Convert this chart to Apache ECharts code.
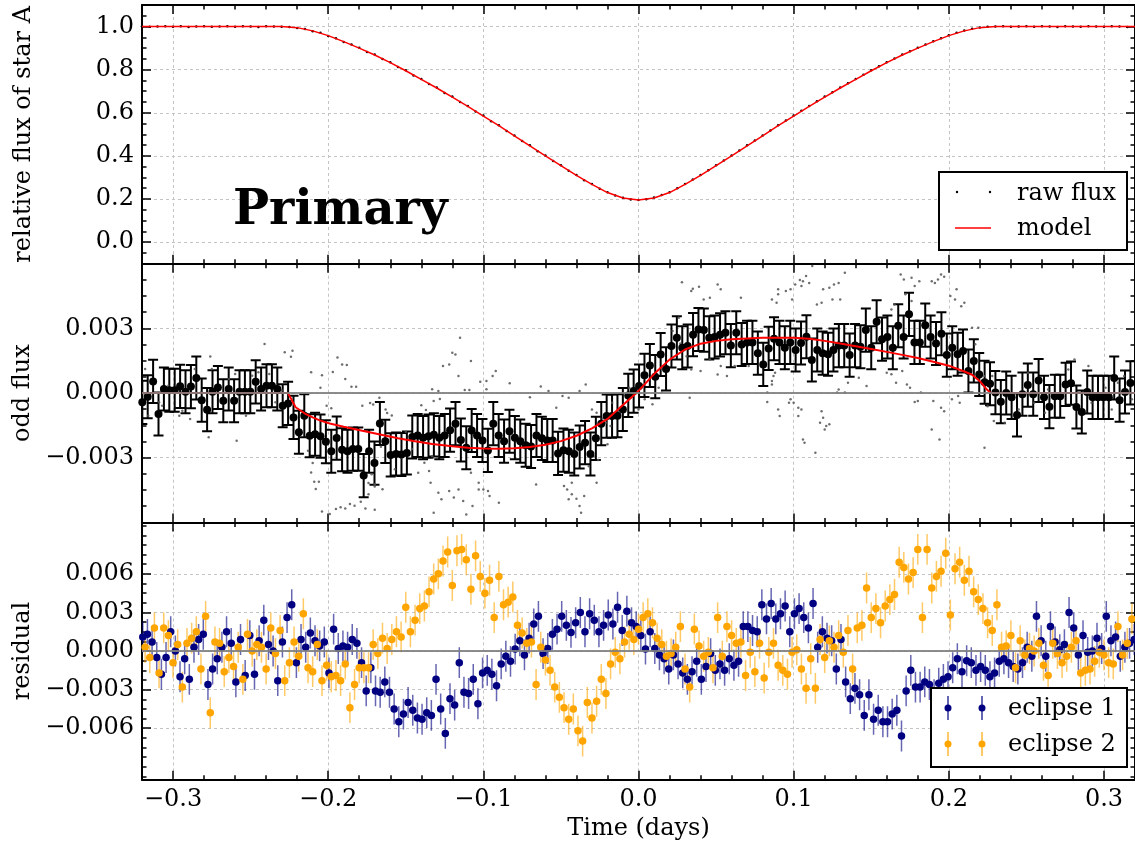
<!DOCTYPE html>
<html>
<head>
<meta charset="utf-8">
<title>Primary eclipse</title>
<script src="https://cdn.jsdelivr.net/npm/echarts@6/dist/echarts.min.js"></script>
<style>
  html, body { margin: 0; padding: 0; background: #fff; }
  #main { width: 1135px; height: 845px; }
</style>
</head>
<body>
<div id="main"></div>
<script>
// ---- time axis ----
var xMin = -0.32, xMax = 0.32;
var xMajor = [-0.3, -0.2, -0.1, 0.0, 0.1, 0.2, 0.3];

// ---- top panel: relative flux of star A ----
var modelStart = -0.32, modelStep = 0.01;
var modelFlux = [
  1.000, 1.000, 1.000, 1.000, 1.000, 1.000, 1.000, 1.000, 1.000, 1.000,
  0.995, 0.980, 0.958, 0.930, 0.900, 0.868, 0.833, 0.795, 0.755, 0.715,
  0.673, 0.630, 0.585, 0.540, 0.493, 0.447, 0.400, 0.355, 0.310, 0.268,
  0.230, 0.205, 0.195, 0.205, 0.230, 0.268, 0.310, 0.355, 0.400, 0.447,
  0.493, 0.540, 0.585, 0.630, 0.673, 0.715, 0.755, 0.795, 0.833, 0.868,
  0.900, 0.930, 0.958, 0.980, 0.995, 1.000, 1.000, 1.000, 1.000, 1.000,
  1.000, 1.000, 1.000, 1.000, 1.000
];
var rawStart = -0.32, rawStep = 0.005;
var rawFlux = [
  1.001, 0.999, 1.000, 1.002, 0.999, 1.001, 0.998, 1.000, 1.002, 0.999,
  1.000, 1.001, 0.999, 1.002, 1.000, 0.998, 1.001, 1.000, 0.999, 0.998,
  0.993, 0.989, 0.978, 0.971, 0.956, 0.946, 0.928, 0.917, 0.902, 0.882,
  0.870, 0.849, 0.835, 0.812, 0.797, 0.773, 0.757, 0.733, 0.717, 0.692,
  0.675, 0.650, 0.632, 0.606, 0.587, 0.561, 0.542, 0.515, 0.495, 0.469,
  0.449, 0.422, 0.402, 0.376, 0.357, 0.331, 0.312, 0.287, 0.270, 0.248,
  0.232, 0.216, 0.206, 0.198, 0.196, 0.199, 0.207, 0.219, 0.232, 0.250,
  0.270, 0.290, 0.312, 0.334, 0.357, 0.379, 0.402, 0.425, 0.449, 0.472,
  0.495, 0.518, 0.542, 0.564, 0.587, 0.609, 0.632, 0.653, 0.675, 0.695,
  0.717, 0.737, 0.757, 0.777, 0.797, 0.816, 0.835, 0.852, 0.870, 0.886,
  0.902, 0.917, 0.932, 0.946, 0.960, 0.971, 0.982, 0.990, 0.996, 0.999,
  1.000, 1.001, 0.999, 1.000, 1.002, 0.999, 1.001, 1.000, 0.998, 1.001,
  1.000, 0.999, 1.002, 1.000, 0.999, 1.001, 1.000, 0.998, 1.001
];

// ---- middle panel: odd flux (values in units of 1e-3) ----
var binStart = -0.3198, binStep = 0.00348, binErr = 1.0;
var oddBin = [
  -0.43, -0.17, 0.54, -0.97, 0.19, 0.13, 0.13, 0.31, 0.06, 0.30,
  0.70, -0.33, -0.77, 0.06, 0.26, -0.36, 0.19, -0.36, 0.06, 0.06,
  0.06, 0.52, 0.19, 0.34, 0.34, 0.19, -0.59, -0.48, -1.13, -1.82,
  -1.05, -1.98, -1.91, -2.00, -2.26, -2.70, -2.09, -2.63, -2.70, -2.60,
  -2.60, -3.83, -2.70, -3.25, -1.41, -2.24, -2.87, -2.83, -2.85, -2.78,
  -2.04, -1.97, -2.07, -2.00, -1.94, -2.07, -1.97, -1.72, -1.42, -2.18,
  -2.54, -1.74, -1.97, -2.20, -2.66, -1.42, -1.97, -2.23, -1.77, -2.07,
  -2.23, -2.42, -2.48, -1.97, -2.10, -2.20, -2.20, -2.80, -2.65, -2.70,
  -2.83, -2.50, -2.30, -2.83, -2.10, -1.42, -1.07, -1.07, -1.05, -0.76,
  -0.11, 0.09, 0.33, 0.82, 1.28, 0.76, 1.79, 1.12, 2.18, 2.56,
  2.10, 2.18, 2.71, 2.95, 2.92, 2.56, 2.60, 2.70, 2.80, 2.20,
  2.80, 2.25, 2.35, 2.35, 1.85, 1.33, 2.07, 2.52, 2.35, 2.10,
  2.35, 2.00, 2.32, 2.61, 1.53, 2.00, 1.85, 1.80, 2.00, 2.20,
  2.20, 1.76, 2.20, 2.15, 2.92, 2.10, 3.31, 2.50, 2.60, 2.10,
  3.12, 2.60, 3.65, 2.35, 2.35, 3.15, 2.60, 2.30, 2.75, 1.76,
  2.10, 1.80, 1.95, 1.02, 1.49, 0.86, 0.50, 0.43, 0.02, -0.40,
  0.00, -0.20, -1.02, -0.05, 0.37, -0.05, 0.58, -0.20, -0.63, -0.15,
  -0.15, 0.40, 0.46, -0.65, -0.88, 0.05, -0.20, -0.20, -0.20, -0.20,
  0.70, -0.33, 0.05, 0.47
];
var oddModelT = [-0.32, -0.226, -0.224, -0.221, -0.215, -0.210, -0.205, -0.199, -0.19, -0.178,
  -0.165, -0.155, -0.145, -0.133, -0.12, -0.11, -0.10, -0.09, -0.08, -0.07,
  -0.06, -0.05, -0.04, -0.03, -0.02, -0.01, 0.0, 0.01, 0.02, 0.03,
  0.04, 0.05, 0.06, 0.07, 0.08, 0.09, 0.10, 0.11, 0.12, 0.13,
  0.14, 0.15, 0.16, 0.17, 0.18, 0.19, 0.20, 0.21, 0.215, 0.22,
  0.224, 0.227, 0.32];
var oddModelV = [0, 0, -0.25, -0.66, -0.95, -1.13, -1.28, -1.41, -1.56, -1.75,
  -1.95, -2.10, -2.22, -2.36, -2.47, -2.54, -2.57, -2.58, -2.56, -2.50,
  -2.40, -2.23, -1.98, -1.64, -1.20, -0.55, 0.10, 0.88, 1.55, 2.02,
  2.29, 2.42, 2.49, 2.53, 2.56, 2.57, 2.56, 2.52, 2.42, 2.30,
  2.17, 2.04, 1.91, 1.77, 1.63, 1.45, 1.27, 1.00, 0.85, 0.55,
  0.20, 0, 0];
// unbinned points [time, odd flux x1e-3]
var oddRaw = [
  [-0.309,-0.43],[-0.296,-1.05],[-0.289,-1.20],[-0.278,-0.66],[-0.275,1.11],[-0.268,-0.28],[-0.264,0.65],
  [-0.258,-0.28],[-0.249,0.80],[-0.245,0.96],[-0.238,0.88],[-0.234,-0.43],[-0.307,-0.59],[-0.316,-1.05],
  [-0.318,1.11],[-0.303,0.34],[-0.286,1.11],[-0.294,-0.82],[-0.260,0.88],[-0.253,-1.05],[-0.230,0.12],
  [-0.282,0.03],[-0.241,2.27],[-0.228,1.89],[-0.223,1.96],[-0.224,1.68],[-0.276,1.70],[-0.259,-2.21],
  [-0.277,-2.05],[-0.194,1.65],[-0.188,1.30],[-0.211,0.96],[-0.204,0.83],[-0.205,0.25],[-0.197,0.98],
  [-0.189,0.65],[-0.185,0.29],[-0.182,0.29],[-0.211,-3.68],[-0.209,-4.11],[-0.206,-4.11],[-0.208,-4.45],
  [-0.204,-5.49],[-0.199,-5.61],[-0.195,-5.38],[-0.192,-5.30],[-0.189,-5.35],[-0.186,-5.15],[-0.183,-5.23],
  [-0.179,-5.04],[-0.176,-5.35],[-0.170,-5.41],[-0.174,-4.17],[-0.170,-4.34],[-0.178,-0.59],[-0.173,-0.46],
  [-0.198,-0.70],[-0.201,-0.59],[-0.213,-2.68],[-0.210,-3.25],[-0.166,-2.49],[-0.191,1.33],[-0.167,-0.22],
  [-0.171,-0.53],[-0.163,-0.76],[-0.162,-0.92],[-0.159,-1.04],[-0.174,-4.70],[-0.170,-4.23],[-0.172,-3.77],
  [-0.165,-4.46],[-0.157,-3.54],[-0.150,-1.80],[-0.146,-2.60],[-0.153,-3.00],
  [-0.115,2.57],[-0.120,1.87],[-0.126,1.25],[-0.122,1.33],[-0.118,1.79],[-0.116,0.79],[-0.112,0.14],
  [-0.109,0.14],[-0.108,1.49],[-0.102,0.52],[-0.098,0.56],[-0.098,0.18],[-0.092,1.02],[-0.094,0.79],
  [-0.083,0.45],[-0.133,0.18],[-0.129,0.09],[-0.132,-0.37],[-0.128,-0.28],[-0.140,-0.57],[-0.137,-0.79],
  [-0.129,-4.62],[-0.132,-5.55],[-0.127,-4.93],[-0.122,-4.54],[-0.119,-4.85],[-0.116,-4.47],[-0.113,-5.01],
  [-0.111,-5.63],[-0.107,-5.24],[-0.103,-4.47],[-0.100,-4.47],[-0.097,-4.54],[-0.096,-4.78],[-0.090,-5.09],
  [-0.108,-3.70],[-0.103,-4.16],[-0.138,-3.23],[-0.142,-3.70],[-0.135,-3.62],[-0.134,-4.16],[-0.133,-2.93],
  [-0.063,0.30],[-0.058,0.10],[-0.070,-0.20],
  [-0.049,-0.14],[-0.045,-0.22],[-0.053,-0.68],[-0.034,0.40],[-0.038,0.09],[-0.030,-0.76],[-0.027,-0.91],
  [-0.023,-1.18],[-0.021,-1.38],[-0.020,-2.38],[-0.018,-1.53],[-0.015,-1.07],[-0.013,-0.83],[-0.017,-0.45],
  [-0.048,-4.31],[-0.046,-4.47],[-0.043,-4.16],[-0.043,-4.70],[-0.045,-4.93],[-0.038,-5.24],[-0.035,-4.78],
  [-0.037,-5.55],[-0.040,-4.90],[-0.066,-4.24],[-0.029,-2.93],[-0.026,-3.11],[-0.032,-3.39],[-0.027,-4.16],
  [0.022,2.88],[0.026,3.49],[0.028,5.14],[0.034,4.73],[0.035,4.84],[0.039,4.93],[0.042,4.34],[0.046,4.42],
  [0.051,5.04],[0.053,4.81],[0.066,4.42],[0.090,4.81],[0.095,4.73],[0.098,4.81],[0.099,4.34],[0.101,5.04],
  [0.031,1.71],[0.034,1.09],[0.040,1.02],[0.027,2.30],[0.046,1.56],[0.053,1.25],[0.033,-0.22],[0.083,-0.42],
  [0.090,-0.76],[0.091,-1.07],[0.098,-0.29],[0.086,0.40],[0.087,0.79],[0.071,1.25],[0.062,1.25],[0.057,0.79],
  [0.051,0.86],[0.013,0.25],[0.015,0.02],[0.009,-0.52],[0.004,-0.29],[0.000,-0.76],[-0.004,-0.14],[-0.006,0.25],
  [0.104,5.24],[0.106,5.19],[0.110,5.11],[0.112,5.89],[0.108,5.43],[0.105,4.96],[0.119,4.81],[0.123,4.88],
  [0.126,5.04],[0.129,5.11],[0.133,5.58],[0.130,4.34],[0.125,4.34],[0.118,4.19],[0.115,4.11],[0.090,4.58],
  [0.086,4.34],[0.089,4.19],
  [0.169,5.50],[0.171,5.27],[0.176,5.35],[0.178,4.96],[0.181,5.19],[0.189,5.19],[0.191,5.11],[0.193,5.27],
  [0.195,5.50],[0.197,5.39],[0.172,4.58],[0.176,4.27],[0.163,3.88],[0.165,4.11],[0.205,4.81],[0.208,4.03],
  [0.210,4.19],[0.201,4.50],[0.204,4.34],[0.215,3.03],[0.219,3.03],[0.217,2.26],
  [0.223,-2.54],[0.194,-2.15],[0.189,-1.69],[0.195,-0.68],[0.197,-0.84],[0.190,-0.37],[0.178,-0.42],
  [0.180,-0.37],[0.182,0.02],[0.166,0.48],[0.163,0.87],[0.160,0.94],[0.170,1.02],[0.173,0.40],[0.175,0.25],
  [0.106,-2.15],[0.107,-2.30],[0.105,-0.76],[0.114,-2.77],[0.117,-1.38],[0.119,-1.15],[0.118,-0.84],
  [0.120,-1.69],[0.121,-1.53],[0.123,-1.45],[0.103,-1.07],[0.103,-0.68],[0.100,-0.45],[0.097,-0.45],
  [0.083,0.02],[0.086,0.56],[0.088,0.94],[0.133,0.02],[0.135,0.48],[0.142,0.71],[0.147,0.33],[0.128,0.02],
  [0.129,0.17],[0.202,-0.29],[0.206,-0.14],[0.207,-0.45],[0.223,0.79],[0.228,0.79],[0.229,-1.30],[0.225,-0.61],
  [0.240,-0.29],[0.245,-0.76],[0.251,0.94],[0.262,-0.91],[0.270,-0.14],[0.277,1.09],[0.281,1.56],[0.290,1.25],
  [0.292,-0.45],[0.298,-0.29],[0.305,-0.76],[0.309,0.48],[0.313,0.79],[0.318,-0.29],[0.236,-1.38],[0.264,0.17],
  [0.283,-0.61],[0.301,0.25],[0.255,-0.45]
];

// ---- bottom panel: residuals (x1e-3) ----
var ecl1Start = -0.3195, ecl2Start = -0.318, eclStep = 0.003, eclErr = 1.2;
var ecl1 = [
  1.1, 1.3, 0.7, -0.5, -1.8, -0.5, 1.5, 0.0, -2.0, -0.6,
  -2.2, 0.3, 0.9, 1.3, -2.6, -1.4, -0.6, 0.3, 1.5, 0.6,
  -2.4, 0.9, -1.9, 1.2, -1.8, 0.8, 2.4, 0.5, 0.0, -2.3,
  0.7, 2.6, 3.6, -0.9, 0.9, 0.3, 1.4, 0.8, 0.4, 0.7,
  -1.7, 1.7, 0.2, 0.4, 0.3, 0.9, 0.6, -0.9, -3.1, -1.3,
  -3.1, -3.2, -2.4, -3.2, -4.5, -5.5, -4.9, -4.0, -4.6, -5.2,
  -5.3, -4.8, -5.0, -2.2, -4.5, -6.4, -3.7, -4.2, -0.9, -3.2,
  -3.3, -2.2, -4.1, -1.7, -1.5, -1.8, -2.7, -1.0, -0.4, -0.8,
  0.15, 0.8, -0.3, 1.0, 2.1, 2.7, -0.2, 0.2, 1.3, 1.7,
  2.7, 2.0, 1.45, 2.2, 3.0, 1.5, 2.9, 2.4, 1.5, 2.0,
  2.8, 2.1, 3.4, 1.6, 3.1, 2.2, 1.9, 1.2, 0.15, 1.5,
  0.2, -0.3, -0.6, -1.4, -0.3, -1.0, -1.7, -2.2, -1.6, -0.8,
  -2.2, -1.2, -0.2, -1.5, -1.0, -1.5, -0.6, -1.1, -0.8, 1.9,
  1.9, 1.6, 1.5, 3.6, 2.5, 3.7, 2.5, 2.9, 3.5, 1.5,
  2.9, 3.3, 2.6, 1.8, 3.7, 0.3, 1.5, 1.0, 0.8, -1.4,
  0.9, -2.4, -3.7, -2.9, -3.4, -5.0, -3.4, -5.3, -4.6, -5.5,
  -5.5, -4.9, -4.6, -6.6, -3.1, -1.5, -2.8, -2.8, -2.4, -2.6,
  -3.4, -2.5, -2.2, -2.0, -1.3, -0.6, -1.6, -0.75, -0.9, -1.5,
  -1.2, -1.5, -2.0, -1.7, -0.8, -0.6, -0.9, -1.2, -1.4, -0.9,
  0.3, -0.4, 2.7, 0.8, -0.4, 1.9, 0.7, 0.1, 0.5, 3.0,
  1.8, -0.3, 1.2, -0.1, 0.0, 1.0, 0.2, 2.7, 0.8, 1.1,
  -0.4, 0.3, 0.6, 0.9
];
var ecl2 = [
  0.3, -0.5, 1.8, -1.7, 1.8, 1.2, -0.9, 0.5, -2.8, 0.6,
  1.0, 1.5, -1.4, 2.7, -4.8, 0.7, 0.6, -1.6, -0.5, -1.2,
  0.3, -2.2, 1.3, 0.0, 0.5, 0.3, -1.4, 1.8, -0.2, 1.6,
  -2.3, -0.9, 0.7, -0.4, 2.9, -1.3, -1.6, 0.5, -2.3, -1.1,
  -2.0, -1.9, -2.3, -1.0, -4.4, -2.6, -1.3, -1.3, -1.3, 0.5,
  -0.2, 1.0, 0.2, 0.9, 1.5, 1.1, 3.4, 1.5, 2.4, 3.3,
  3.5, 4.6, 5.6, 6.0, 7.0, 7.7, 5.1, 7.8, 7.9, 7.1,
  4.8, 7.4, 5.8, 4.5, 5.5, 2.6, 5.8, 3.6, 3.8, 4.2,
  2.0, 1.4, 0.6, 0.7, -2.6, 0.3, -0.7, -1.5, -2.8, -3.6,
  -4.4, -5.3, -4.5, -6.2, -7.0, -4.0, -5.2, -3.9, -2.2, -3.3,
  -1.0, -0.1, -0.6, 0.7, 1.3, 0.9, 1.7, 2.6, 2.9, 2.2,
  1.0, 0.5, -0.4, -0.2, 0.3, 1.9, -1.4, -2.8, 1.7, 0.4,
  -0.4, -0.1, -1.3, 2.6, -0.4, 1.9, 1.2, 0.6, 0.7, -1.9,
  -0.1, -1.6, 0.6, -2.1, -0.1, 0.6, -1.1, -1.5, -1.8, -0.1,
  0.1, -1.4, -2.9, -0.6, -2.9, 0.9, -0.5, 0.8, 0.3, 1.2,
  -0.1, 1.6, -1.4, 1.8, 2.0, 4.9, 2.6, 3.3, 2.2, 3.5,
  4.0, 4.4, 6.9, 6.5, 5.6, 6.1, 7.9, 2.6, 7.9, 4.9,
  5.8, 6.2, 7.6, 2.8, 6.4, 6.9, 5.5, 6.2, 4.6, 4.0,
  3.3, 2.2, 1.6, 3.6, 0.3, 0.4, 1.2, -1.3, 0.8, -0.3,
  0.2, 0.0, 0.6, -1.1, -1.9, 0.6, -0.2, -0.9, -0.4, 0.3,
  0.8, -1.7, -1.5, -1.4, -0.8, -0.1, -0.3, -0.9, -1.0, 1.9,
  -0.3, 0.6, 2.5
];

var FONT = 'DejaVu Serif';
var FS = 24;
var navy = '#000080', orange = '#ffa500';

// tick positions
function steps(from, to, step) {
  var out = [];
  for (var i = from; i <= to; i++) out.push(Math.round(i * step * 1e6) / 1e6);
  return out;
}
var xMinor = steps(-16, 16, 0.02);

var panels = [
  { top: 5, height: 258.7, min: -0.1, max: 1.1, major: [0, 0.2, 0.4, 0.6, 0.8, 1.0],
    minor: steps(-2, 22, 0.05), dec: 1, name: 'relative flux of star A' },
  { top: 263.7, height: 258.7, min: -0.006, max: 0.006, major: [-0.003, 0, 0.003],
    minor: steps(-8, 8, 0.00075), dec: 3, name: 'odd flux' },
  { top: 522.4, height: 257.3, min: -0.01, max: 0.01, major: [-0.006, -0.003, 0, 0.003, 0.006],
    minor: steps(-13, 13, 0.00075), dec: 3, name: 'residual' }
];

function fmt(dec) {
  return function (v) { return v.toFixed(dec).replace('-', '\u2212'); };
}

var frameLine = { show: true, onZero: false, lineStyle: { color: '#000', width: 2 } };
var noLine = { show: false, onZero: false };
var dashed = { show: true, lineStyle: { color: '#c4c4c4', width: 1, type: [3, 3] } };
function ticks(vals, len) {
  return { show: true, inside: true, length: len, customValues: vals, lineStyle: { color: '#000', width: 1.5 } };
}

var grids = [], xAxes = [], yAxes = [];
// grids 0-2 carry data, major ticks and the frame; grids 3-5 sit on top with minor ticks
for (var k = 0; k < 2; k++) {
  panels.forEach(function (p) {
    grids.push({ left: 142, width: 994, top: p.top, height: p.height });
  });
}
// x axes: 0-2 bottom major, 3-5 top major, 6-8 bottom minor, 9-11 top minor
[['bottom', 0, true], ['top', 0, true], ['bottom', 3, false], ['top', 3, false]].forEach(function (d) {
  panels.forEach(function (p, g) {
    var major = d[2];
    var ax = {
      type: 'value', gridIndex: g + d[1], position: d[0], min: xMin, max: xMax,
      axisLine: major ? frameLine : noLine,
      axisTick: major ? ticks(xMajor, 9) : ticks(xMinor, 4.5),
      axisLabel: { show: false },
      splitLine: (major && d[0] === 'bottom') ? dashed : { show: false }
    };
    if (major && d[0] === 'bottom' && g === 2) {
      ax.axisLabel = { show: true, customValues: xMajor, formatter: fmt(1), margin: 8,
        color: '#000', fontSize: FS, fontFamily: FONT };
      ax.name = 'Time (days)';
      ax.nameLocation = 'middle';
      ax.nameGap = 37;
      ax.nameTextStyle = { color: '#000', fontSize: FS, fontFamily: FONT };
    }
    xAxes.push(ax);
  });
});
// y axes: 0-2 left major, 3-5 right major, 6-8 left minor, 9-11 right minor
[['left', 0, true], ['right', 0, true], ['left', 3, false], ['right', 3, false]].forEach(function (d) {
  panels.forEach(function (p, g) {
    var major = d[2];
    var ax = {
      type: 'value', gridIndex: g + d[1], position: d[0], min: p.min, max: p.max,
      axisLine: major ? frameLine : noLine,
      axisTick: major ? ticks(p.major, 9) : ticks(p.minor, 4.5),
      axisLabel: { show: false },
      splitLine: (major && d[0] === 'left') ? dashed : { show: false }
    };
    if (major && d[0] === 'left') {
      ax.axisLabel = { show: true, customValues: p.major, formatter: fmt(p.dec), margin: 8,
        color: '#000', fontSize: FS, fontFamily: FONT };
      ax.name = p.name;
      ax.nameLocation = 'middle';
      ax.nameGap = 106;
      ax.nameTextStyle = { color: '#000', fontSize: FS, fontFamily: FONT };
    }
    yAxes.push(ax);
  });
});

// error bar renderer
function errorBars(color, width, cap, opacity) {
  return function (params, api) {
    var x = api.value(0), y = api.value(1), e = api.value(2);
    var lo = api.coord([x, y - e]);
    var hi = api.coord([x, y + e]);
    var st = { stroke: color, lineWidth: width, opacity: opacity };
    var kids = [{ type: 'line', shape: { x1: lo[0], y1: lo[1], x2: hi[0], y2: hi[1] }, style: st }];
    if (cap) {
      kids.push({ type: 'line', shape: { x1: lo[0] - cap, y1: lo[1], x2: lo[0] + cap, y2: lo[1] }, style: st });
      kids.push({ type: 'line', shape: { x1: hi[0] - cap, y1: hi[1], x2: hi[0] + cap, y2: hi[1] }, style: st });
    }
    return { type: 'group', children: kids };
  };
}

var modelData = modelFlux.map(function (v, i) { return [modelStart + i * modelStep, v]; });
var rawData = rawFlux.map(function (v, i) { return [rawStart + i * rawStep, v]; });
var binData = oddBin.map(function (v, i) { return [binStart + i * binStep, v / 1000, binErr / 1000]; });
var oddModelData = oddModelT.map(function (t, i) { return [t, oddModelV[i] / 1000]; });
var oddRawData = oddRaw.map(function (p) { return [p[0], p[1] / 1000]; });
var ecl1Data = ecl1.map(function (v, i) { return [ecl1Start + i * eclStep, v / 1000, eclErr / 1000]; });
var ecl2Data = ecl2.map(function (v, i) { return [ecl2Start + i * eclStep, v / 1000, eclErr / 1000]; });

var zeroLine = {
  silent: true, symbol: ['none', 'none'], label: { show: false },
  lineStyle: { color: '#808080', width: 2, type: 'solid', opacity: 0.9 },
  data: [{ yAxis: 0 }]
};

var series = [
  { type: 'scatter', xAxisIndex: 0, yAxisIndex: 0, data: rawData, symbolSize: 2.5,
    itemStyle: { color: '#000', opacity: 1 } },
  { type: 'line', xAxisIndex: 0, yAxisIndex: 0, data: modelData, showSymbol: false, symbol: 'none',
    lineStyle: { color: '#ff0000', width: 1.5 } },
  { type: 'scatter', xAxisIndex: 1, yAxisIndex: 1, data: oddRawData, symbolSize: 2.5,
    itemStyle: { color: '#555', opacity: 0.85 }, markLine: zeroLine },
  { type: 'custom', xAxisIndex: 1, yAxisIndex: 1, data: binData, clip: true,
    encode: { x: 0, y: 1 }, renderItem: errorBars('#000', 2, 5, 1) },
  { type: 'scatter', xAxisIndex: 1, yAxisIndex: 1, data: binData, symbolSize: 8,
    itemStyle: { color: '#000', opacity: 1 } },
  { type: 'line', xAxisIndex: 1, yAxisIndex: 1, data: oddModelData, showSymbol: false, symbol: 'none',
    lineStyle: { color: '#ff0000', width: 2 } },
  { type: 'custom', xAxisIndex: 2, yAxisIndex: 2, data: ecl1Data, clip: true,
    encode: { x: 0, y: 1 }, renderItem: errorBars(navy, 1.5, 0, 0.6), markLine: zeroLine },
  { type: 'scatter', xAxisIndex: 2, yAxisIndex: 2, data: ecl1Data, symbolSize: 7.5,
    itemStyle: { color: navy, opacity: 1 } },
  { type: 'custom', xAxisIndex: 2, yAxisIndex: 2, data: ecl2Data, clip: true,
    encode: { x: 0, y: 1 }, renderItem: errorBars(orange, 1.5, 0, 0.6) },
  { type: 'scatter', xAxisIndex: 2, yAxisIndex: 2, data: ecl2Data, symbolSize: 7.5,
    itemStyle: { color: orange, opacity: 1 } }
];

// legends and panel title drawn by hand (matplotlib style)
var legendFont = FS + 'px "' + FONT + '"';
var graphic = [
  { type: 'text', x: 233, y: 212, z: 100,
    style: { text: 'Primary', font: 'bold 48px "' + FONT + '"', fill: '#000', verticalAlign: 'middle' } },
  // top legend
  { type: 'rect', z: 100, shape: { x: 939, y: 172, width: 188, height: 78 },
    style: { fill: '#fff', stroke: '#000', lineWidth: 2 } },
  { type: 'circle', z: 101, shape: { cx: 957, cy: 192, r: 1.2 }, style: { fill: '#000' } },
  { type: 'circle', z: 101, shape: { cx: 990, cy: 192, r: 1.2 }, style: { fill: '#000' } },
  { type: 'text', z: 101, x: 1017, y: 194, style: { text: 'raw flux', font: legendFont, fill: '#000', verticalAlign: 'middle' } },
  { type: 'line', z: 101, shape: { x1: 955, y1: 228, x2: 991, y2: 228 }, style: { stroke: '#ff0000', lineWidth: 1.5 } },
  { type: 'text', z: 101, x: 1017, y: 229, style: { text: 'model', font: legendFont, fill: '#000', verticalAlign: 'middle' } },
  // bottom legend
  { type: 'rect', z: 100, shape: { x: 931, y: 688, width: 196, height: 79 },
    style: { fill: '#fff', stroke: '#000', lineWidth: 2 } }
];
[[navy, 708, 'eclipse 1'], [orange, 744, 'eclipse 2']].forEach(function (e) {
  [948, 982].forEach(function (cx) {
    graphic.push({ type: 'line', z: 101, shape: { x1: cx, y1: e[1] - 12, x2: cx, y2: e[1] + 12 },
      style: { stroke: e[0], lineWidth: 1.5, opacity: 0.8 } });
    graphic.push({ type: 'circle', z: 102, shape: { cx: cx, cy: e[1], r: 3.5 }, style: { fill: e[0] } });
  });
  graphic.push({ type: 'text', z: 101, x: 1008, y: e[1] + 1,
    style: { text: e[2], font: legendFont, fill: '#000', verticalAlign: 'middle' } });
});

var myChart = echarts.init(document.getElementById('main'));
var option = {
  animation: false,
  backgroundColor: '#fff',
  textStyle: { fontFamily: FONT },
  grid: grids,
  xAxis: xAxes,
  yAxis: yAxes,
  series: series,
  graphic: graphic
};
myChart.setOption(option);
</script>
</body>
</html>
